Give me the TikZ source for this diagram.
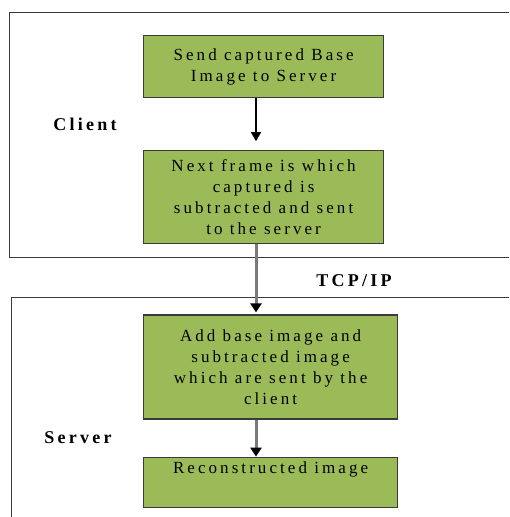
\documentclass[tikz,border=0pt]{standalone}
\usepackage{fontspec}
\setmainfont{Liberation Serif}[LetterSpace=18]
\usetikzlibrary{arrows.meta,positioning}
\definecolor{stepgreen}{HTML}{9BBB59}
\definecolor{framegray}{HTML}{3A3A3A}
\definecolor{linkgray}{HTML}{7A7A7A}

\begin{document}
\begin{tikzpicture}[x=1pt,y=-1pt]
  \useasboundingbox (0,0) rectangle (509,517);
  \clip (0,0) rectangle (509,517);
  \tikzset{StepStyle/.style = {draw=framegray, line width=1.2pt, fill=stepgreen, shape=rectangle,
                               align=center, inner sep=4pt, text=black,
                               font=\fontsize{17}{21}\selectfont, anchor=north west}}
  \tikzset{FrameStyle/.style = {draw=framegray, line width=1pt}}
  \tikzset{TagStyle/.style = {font=\fontsize{18}{22}\selectfont\bfseries, text=black}}
  \tikzset{EdgeStyle/.style = {line width=1.5pt, draw=black, -{Triangle[length=9pt,width=10pt]}}}
  \tikzset{NetEdgeStyle/.style = {line width=3pt, draw=linkgray, -{Triangle[length=9pt,width=11pt,color=black]}}}

  % client and server frames
  \draw[FrameStyle] (520,12) -- (9,12) -- (9,257) -- (520,257);
  \draw[FrameStyle] (520,297) -- (11,297) -- (11,530);

  \coordinate (spine) at (256,0);

  \node(1)[StepStyle, minimum width=240pt, minimum height=62pt] at (143,35)
      {Send captured Base\\Image to Server};
  \node(2)[StepStyle, minimum width=240pt, minimum height=93pt, below=52pt of 1.south west, anchor=north west]
      {Next frame is which\\captured is\\subtracted and sent\\to the server};
  \node(3)[StepStyle, minimum width=254pt, minimum height=104pt, below=70pt of 2.south west, anchor=north west]
      {Add base image and\\subtracted image\\which are sent by the\\client};
  \node(4)[StepStyle, minimum width=254pt, text height=12pt, text depth=30pt, below=37pt of 3.south west, anchor=north west]
      {Reconstructed image};

  \node(5)[TagStyle] at (85,124) {Client};
  \node(6)[TagStyle] at (354,281) {TCP/IP};
  \node(7)[TagStyle] at (78,438) {Server};

  \draw[EdgeStyle, shorten >=9pt](1.south -| spine) -- (2.north -| spine);
  \draw[NetEdgeStyle, shorten >=2pt](2.south -| spine) -- (3.north -| spine);
  \draw[NetEdgeStyle](3.south -| spine) -- (4.north -| spine);
\end{tikzpicture}
\end{document}
